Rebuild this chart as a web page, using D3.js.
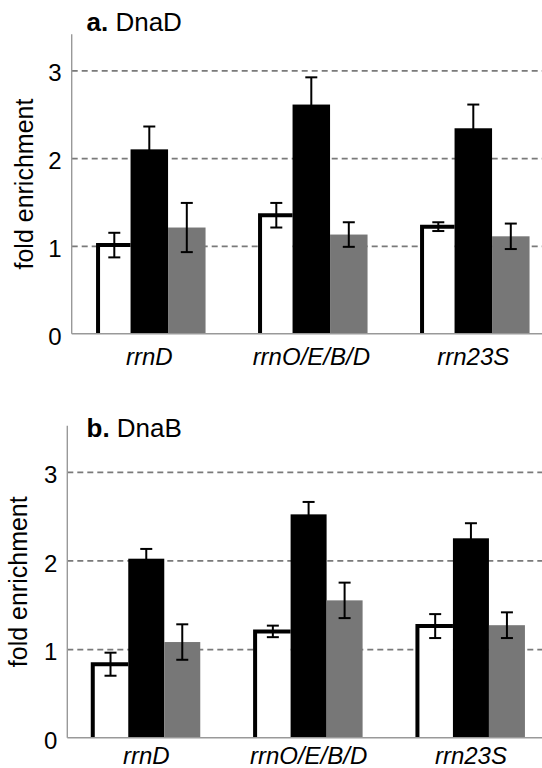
<!DOCTYPE html>
<html>
<head>
<meta charset="utf-8">
<script src="https://cdn.jsdelivr.net/npm/d3@7"></script>
<style>
  body { margin: 0; background: #fff; }
  svg { display: block; font-family: "Liberation Sans", Arial, sans-serif; }
</style>
</head>
<body>
<div id="chart-area"></div>
<script>
// data
const categories = ["rrnD", "rrnO/E/B/D", "rrn23S"];
const seriesNames = ["open", "black", "grey"];
const yTicks = [0, 1, 2, 3];

// values per category, in series order
const dnaDValues = [[1.01, 2.10, 1.21], [1.35, 2.61, 1.13], [1.22, 2.34, 1.11]];
const dnaDErrors = [[0.14, 0.26, 0.28], [0.14, 0.31, 0.14], [0.05, 0.27, 0.145]];
const dnaBValues = [[0.83, 2.02, 1.08], [1.20, 2.52, 1.55], [1.26, 2.25, 1.27]];
const dnaBErrors = [[0.13, 0.11, 0.20], [0.065, 0.14, 0.20], [0.135, 0.17, 0.145]];

const W = 542, H = 768;

var svg = d3.select('#chart-area')
    .append('svg')
    .attr('width', W)
    .attr('height', H);

// layout of each panel (pixels)
let panels = [
    { letter: "a.", name: "DnaD", values: dnaDValues, errors: dnaDErrors,
      yRange: [333.8, 70.3], yTop: 3.41, axisX: 71.7, xRange: [68.3, 554.3],
      barW: 37.5, whiteInset: 5, titleY: 31, labelX: 24, labelPad: 14 },
    { letter: "b.", name: "DnaB", values: dnaBValues, errors: dnaBErrors,
      yRange: [737.8, 471.8], yTop: 3.52, axisX: 67.3, xRange: [65.1, 552.1],
      barW: 36, whiteInset: 0.5, titleY: 437, labelX: 18, labelPad: 9 }
];

const fills = { open: "#fff", black: "#000", grey: "#777" };

panels.forEach(function(p) {
    var g = svg.append('g');

    var y = d3.scaleLinear()
        .domain([0, 3])
        .range(p.yRange);

    var bw = p.barW * seriesNames.length;
    var step = (p.xRange[1] - p.xRange[0]) / categories.length;
    var pin = 1 - bw / step;
    var x = d3.scaleBand()
        .domain(categories)
        .range(p.xRange)
        .paddingInner(pin)
        .paddingOuter(pin / 2);

    var xs = d3.scaleBand()
        .domain(seriesNames)
        .range([0, x.bandwidth()]);

    // dashed gridlines
    var grid = d3.axisLeft(y)
        .tickValues(yTicks.filter(function(d){ return d > 0; }))
        .tickSize(-(W - p.axisX))
        .tickFormat('');
    g.append('g')
        .attr('class', 'grid')
        .attr('transform', 'translate(' + p.axisX + ',0)')
        .call(grid)
        .call(function(s){ s.select('.domain').remove(); })
        .selectAll('line')
            .attr('stroke', '#7a7a7a')
            .attr('stroke-width', 1.8)
            .attr('stroke-dasharray', '6,4');

    // bars
    var groups = g.selectAll('.cat')
        .data(categories)
        .enter().append('g')
        .attr('transform', function(d){ return 'translate(' + x(d) + ',0)'; });

    groups.each(function(cat, ci) {
        var cg = d3.select(this);
        seriesNames.forEach(function(s, si) {
            var v = p.values[ci][si];
            var e = p.errors[ci][si];
            var x0 = xs(s), w = xs.bandwidth();
            var cx;
            if (s === "open") {
                var lx = x0 + p.whiteInset;
                cg.append('rect')
                    .attr('x', lx).attr('y', y(v))
                    .attr('width', x0 + w - lx).attr('height', y(0) - y(v))
                    .attr('fill', '#fff');
                cg.append('path')
                    .attr('d', 'M' + lx + ',' + y(0) + 'V' + y(v) + 'H' + (x0 + w))
                    .attr('fill', 'none')
                    .attr('stroke', '#000')
                    .attr('stroke-width', 4);
                cx = (lx + x0 + w) / 2;
            } else {
                cg.append('rect')
                    .attr('x', x0).attr('y', y(v))
                    .attr('width', w).attr('height', y(0) - y(v))
                    .attr('fill', fills[s]);
                cx = x0 + w / 2;
            }
            // error bar
            var eb = cg.append('g')
                .attr('stroke', '#000')
                .attr('stroke-width', 2);
            eb.append('line')
                .attr('x1', cx).attr('x2', cx)
                .attr('y1', y(v + e)).attr('y2', y(v - e));
            [v + e, v - e].forEach(function(t) {
                eb.append('line')
                    .attr('x1', cx - 6).attr('x2', cx + 6)
                    .attr('y1', y(t)).attr('y2', y(t));
            });
        });
    });

    // axis lines
    g.append('line')
        .attr('x1', p.axisX).attr('x2', p.axisX)
        .attr('y1', y(p.yTop)).attr('y2', y(0))
        .attr('stroke', '#999').attr('stroke-width', 1.4);
    g.append('line')
        .attr('x1', p.axisX).attr('x2', W)
        .attr('y1', y(0)).attr('y2', y(0))
        .attr('stroke', '#999').attr('stroke-width', 1.4);

    // y tick labels
    var yAxisCall = d3.axisLeft(y)
        .tickValues(yTicks)
        .tickSize(0)
        .tickPadding(10)
        .tickFormat(d3.format('d'));
    g.append('g')
        .attr('class', 'y axis')
        .attr('transform', 'translate(' + p.axisX + ',0)')
        .call(yAxisCall)
        .call(function(s){ s.select('.domain').remove(); })
        .selectAll('text')
            .attr('font-size', '24px')
            .attr('font-family', '"Liberation Sans", Arial, sans-serif')
            .attr('fill', '#000')
            .attr('dy', '0.44em');

    // x category labels
    var xAxisCall = d3.axisBottom(x)
        .tickSize(0)
        .tickPadding(p.labelPad);
    g.append('g')
        .attr('class', 'x axis')
        .attr('transform', 'translate(0,' + y(0) + ')')
        .call(xAxisCall)
        .call(function(s){ s.select('.domain').remove(); })
        .selectAll('text')
            .attr('font-size', '24px')
            .attr('font-style', 'italic')
            .attr('font-family', '"Liberation Sans", Arial, sans-serif')
            .attr('fill', '#000');

    // y label
    g.append('text')
        .attr('transform', 'translate(' + p.labelX + ',' + ((y(0) + y(p.yTop)) / 2) + ') rotate(-90)')
        .attr('text-anchor', 'middle')
        .attr('dominant-baseline', 'central')
        .attr('font-size', '25px')
        .text('fold enrichment');

    // panel title
    var t = g.append('text')
        .attr('x', 86.5)
        .attr('y', p.titleY)
        .attr('font-size', '26px');
    t.append('tspan').attr('font-weight', 'bold').text(p.letter);
    t.append('tspan').text(' ' + p.name);
});
</script>
</body>
</html>
